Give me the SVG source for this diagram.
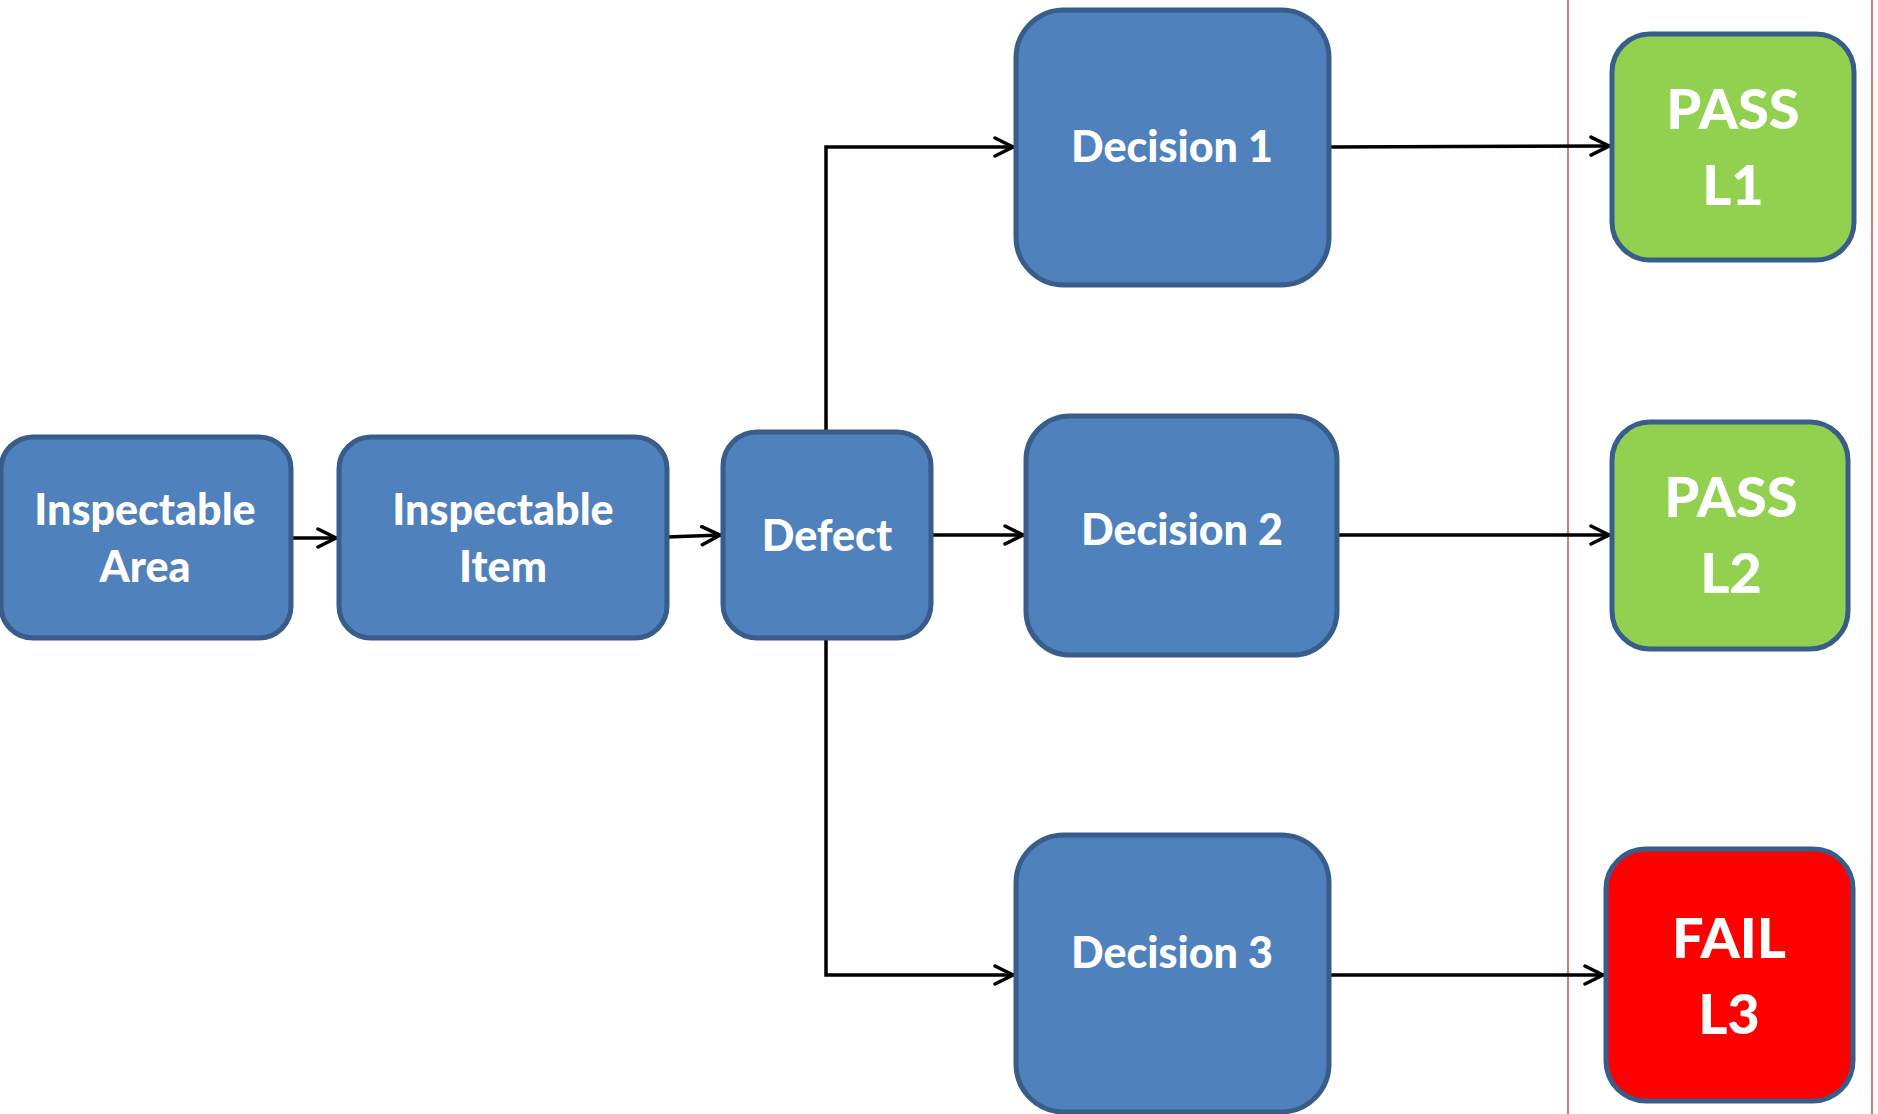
<svg xmlns="http://www.w3.org/2000/svg" width="1878" height="1114" viewBox="0 0 1878 1114">
<defs>
<style>
.box{fill:#4F81BD;stroke:#385D8A;stroke-width:5}
.pass{fill:#92D050;stroke:#385D8A;stroke-width:5}
.fail{fill:#FF0000;stroke:#385D8A;stroke-width:5}
.t{font-family:Lato,"Open Sans",sans-serif;font-weight:900;fill:#FFFFFF;text-anchor:middle;font-size:43px}
.tb{font-family:Lato,"Open Sans",sans-serif;font-weight:900;fill:#FFFFFF;text-anchor:middle;font-size:56px}
.c{fill:none;stroke:#000000;stroke-width:3.5;marker-end:url(#arr)}
.guide{stroke:#C0504D;stroke-width:1.5}
</style>
<marker id="arr" viewBox="0 0 24 24" refX="22" refY="12" markerWidth="24" markerHeight="24" markerUnits="userSpaceOnUse" orient="auto">
<path d="M3,3 L21,12 L3,21" fill="none" stroke="#000000" stroke-width="3.5" stroke-linecap="round" stroke-linejoin="miter"/>
</marker>
</defs>
<rect width="1878" height="1114" fill="#FFFFFF"/>
<line class="guide" x1="1568" y1="0" x2="1568" y2="1114"/>
<line class="guide" x1="1872" y1="0" x2="1872" y2="1114"/>
<g id="connectors">
<path class="c" d="M291,538 L337,538"/>
<path class="c" d="M667,537 L721,535"/>
<path class="c" d="M931,535 L1024,535"/>
<path class="c" d="M826,432 L826,147 L1014,147"/>
<path class="c" d="M826,638 L826,975 L1014,975"/>
<path class="c" d="M1329,147 L1610,146"/>
<path class="c" d="M1337,535 L1610,535"/>
<path class="c" d="M1329,975 L1604,975"/>
</g>
<g id="inspectable-area">
<rect class="box" x="1" y="437" width="290" height="201" rx="32"/>
<text class="t" x="145" y="525">Inspectable</text>
<text class="t" x="145" y="582">Area</text>
</g>
<g id="inspectable-item">
<rect class="box" x="339" y="437" width="328" height="201" rx="32"/>
<text class="t" x="503" y="525">Inspectable</text>
<text class="t" x="503" y="582">Item</text>
</g>
<g id="defect">
<rect class="box" x="723" y="432" width="208" height="206" rx="34"/>
<text class="t" x="827" y="551">Defect</text>
</g>
<g id="decision-1">
<rect class="box" x="1016" y="10" width="313" height="275" rx="48"/>
<text class="t" x="1172" y="162">Decision 1</text>
</g>
<g id="decision-2">
<rect class="box" x="1026" y="416" width="311" height="239" rx="44"/>
<text class="t" x="1182" y="545">Decision 2</text>
</g>
<g id="decision-3">
<rect class="box" x="1016" y="835" width="313" height="277" rx="48"/>
<text class="t" x="1172" y="968">Decision 3</text>
</g>
<g id="pass-l1">
<rect class="pass" x="1612" y="34" width="242" height="226" rx="38"/>
<text class="tb" x="1733" y="129">PASS</text>
<text class="tb" x="1733" y="205">L1</text>
</g>
<g id="pass-l2">
<rect class="pass" x="1612" y="422" width="236" height="227" rx="38"/>
<text class="tb" x="1731" y="517">PASS</text>
<text class="tb" x="1731" y="593">L2</text>
</g>
<g id="fail-l3">
<rect class="fail" x="1606" y="849" width="247" height="252" rx="40"/>
<text class="tb" x="1729" y="958">FAIL</text>
<text class="tb" x="1729" y="1034">L3</text>
</g>
</svg>
